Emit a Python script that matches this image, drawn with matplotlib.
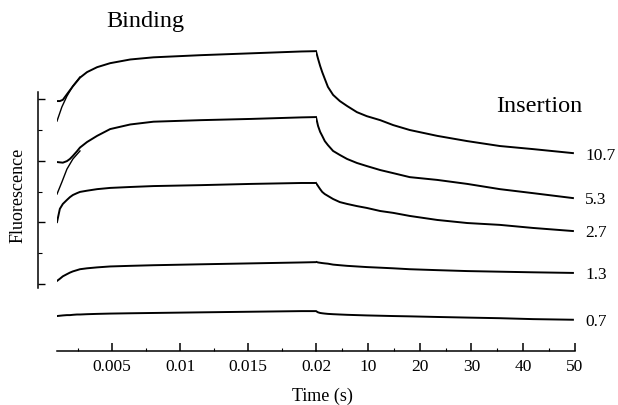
# Imports
import matplotlib
matplotlib.use("Agg")
import matplotlib.pyplot as plt
from matplotlib.ticker import FixedLocator

plt.rcParams['font.family'] = ['Liberation Serif', 'DejaVu Serif']

# Binding phase (time in s)
bind_t = [0.00094, 0.00115, 0.00137, 0.00167, 0.00189, 0.00211, 0.00241, 0.00263,
          0.00315, 0.00389, 0.00485, 0.00633, 0.00804, 0.01152, 0.01522, 0.01893, 0.0200]
bind_107 = [5.94, 5.94, 5.98, 6.16, 6.29, 6.42, 6.58, 6.70, 6.88, 7.04, 7.17, 7.29, 7.36, 7.43, 7.49, 7.55, 7.56]
bind_53 = [3.96, 3.95, 3.94, 3.99, 4.06, 4.16, 4.31, 4.43, 4.61, 4.81, 5.03, 5.18, 5.27, 5.32, 5.36, 5.41, 5.42]
bind_27 = [2.01, 2.44, 2.60, 2.73, 2.82, 2.89, 2.95, 2.99, 3.03, 3.08, 3.12, 3.15, 3.18, 3.21, 3.25, 3.28, 3.28]
bind_13 = [0.10, 0.17, 0.25, 0.32, 0.37, 0.41, 0.45, 0.48, 0.51, 0.54, 0.57, 0.59, 0.61, 0.64, 0.67, 0.70, 0.71]
bind_07 = [-1.04, -1.03, -1.02, -1.01, -1.01, -1.00, -0.99, -0.99, -0.98, -0.97, -0.96, -0.95, -0.94, -0.92, -0.90, -0.88, -0.88]

# Fitted curves at the start of binding (two top traces)
fit_t = [0.00094, 0.0013, 0.00167, 0.00211, 0.00263]
fit_107 = [5.29, 5.75, 6.10, 6.43, 6.72]
fit_53 = [2.92, 3.31, 3.73, 4.06, 4.32]

# Insertion phase (time in s)
ins_t = [0, 0.4, 0.8, 1.2, 1.7, 2.3, 3.3, 4.6, 6.0, 7.9, 9.8, 12.4, 14.9, 18.1, 23.4, 29.2, 35.5, 41.9, 49.6]
ins_107 = [7.56, 7.31, 7.08, 6.88, 6.66, 6.40, 6.14, 5.94, 5.78, 5.58, 5.45, 5.32, 5.16, 5.00, 4.81, 4.64, 4.48, 4.38, 4.25]
ins_53 = [5.42, 5.13, 4.94, 4.81, 4.64, 4.51, 4.32, 4.19, 4.06, 3.93, 3.83, 3.70, 3.60, 3.47, 3.38, 3.25, 3.08, 2.95, 2.79]
ins_27 = [3.28, 3.18, 3.08, 2.99, 2.92, 2.86, 2.76, 2.66, 2.60, 2.53, 2.47, 2.37, 2.31, 2.21, 2.08, 1.98, 1.92, 1.82, 1.72]
ins_13 = [0.72, 0.70, 0.69, 0.68, 0.67, 0.66, 0.63, 0.61, 0.59, 0.57, 0.55, 0.53, 0.51, 0.48, 0.45, 0.42, 0.40, 0.38, 0.36]
ins_07 = [-0.88, -0.92, -0.94, -0.95, -0.96, -0.97, -0.98, -0.99, -1.00, -1.01, -1.02, -1.03, -1.04, -1.05, -1.07, -1.09, -1.11, -1.14, -1.16]

conc_labels = ["10.7", "5.3", "2.7", "1.3", "0.7"]
bind_traces = [bind_107, bind_53, bind_27, bind_13, bind_07]
ins_traces = [ins_107, ins_53, ins_27, ins_13, ins_07]

left_ticks = [0.005, 0.01, 0.015, 0.02]
left_ticklabels = ["0.005", "0.01", "0.015", "0.02"]
left_minor = [0.0025, 0.0075, 0.0125, 0.0175]
right_ticks = [10, 20, 30, 40, 50]
right_minor = [5, 15, 25, 35, 45]

# Figure
W, H = 618, 406
fig = plt.figure(figsize=(W / 100, H / 100), dpi=100)
bottom = (H - 352) / H
height = (352 - 40) / H
ax1 = fig.add_axes([57 / W, bottom, (316 - 57) / W, height])
ax2 = fig.add_axes([316 / W, bottom, (575 - 316) / W, height])

lw = 1.4
for y in bind_traces:
    ax1.plot(bind_t, y, color="black", lw=lw)
ax1.plot(fit_t, fit_107, color="black", lw=1.0)
ax1.plot(fit_t, fit_53, color="black", lw=1.0)
for y, lab in zip(ins_traces, conc_labels):
    ax2.plot(ins_t, y, color="black", lw=lw)
    ax2.annotate(lab, xy=(ins_t[-1], y[-1]), xytext=(9, -1), textcoords="offset points",
                 ha="left", va="center", fontsize=12.5, annotation_clip=False)

ylim = (-2.175, 7.955)
ax1.set_xlim(0.00094, 0.02)
ax2.set_xlim(0, 50)
for ax in (ax1, ax2):
    ax.set_ylim(*ylim)
    ax.patch.set_alpha(0)
    for s in ("top", "right"):
        ax.spines[s].set_visible(False)
    ax.spines["bottom"].set_linewidth(1.1)
    ax.tick_params(axis="x", which="major", direction="in", length=5.5, width=1.1,
                   pad=5, labelsize=12.5)
    ax.tick_params(axis="x", which="minor", direction="in", length=2.5, width=0.8)

ax1.xaxis.set_major_locator(FixedLocator(left_ticks))
ax1.xaxis.set_minor_locator(FixedLocator(left_minor))
ax1.set_xticklabels(left_ticklabels)
ax2.xaxis.set_major_locator(FixedLocator(right_ticks))
ax2.xaxis.set_minor_locator(FixedLocator(right_minor))
ax2.set_xticklabels([str(t) for t in right_ticks])

# y axis on the left, pushed out from the traces
ax1.spines["left"].set_position(("outward", 13.5))
ax1.spines["left"].set_bounds(-0.13, 6.23)
ax1.spines["left"].set_linewidth(1.1)
ax1.yaxis.set_major_locator(FixedLocator([0, 2, 4, 6]))
ax1.yaxis.set_minor_locator(FixedLocator([1, 3, 5]))
ax1.set_yticklabels([])
ax1.tick_params(axis="y", which="major", direction="in", length=5, width=1.0)
ax1.tick_params(axis="y", which="minor", direction="in", length=3, width=0.8)
ax2.spines["left"].set_visible(False)
ax2.tick_params(axis="y", which="both", left=False, labelleft=False)

# Text
fig.text(18 / W, 1 - 195 / H, "Fluorescence", rotation=90, ha="center", va="center", fontsize=13)
fig.text(322 / W, 1 - 396 / H, "Time (s)", ha="center", va="center", fontsize=13)
fig.text(145 / W, 1 - 22 / H, "Binding", ha="center", va="center", fontsize=17.5)
fig.text(539 / W, 1 - 106 / H, "Insertion", ha="center", va="center", fontsize=17.5)

fig.savefig("out.png", dpi=100)
